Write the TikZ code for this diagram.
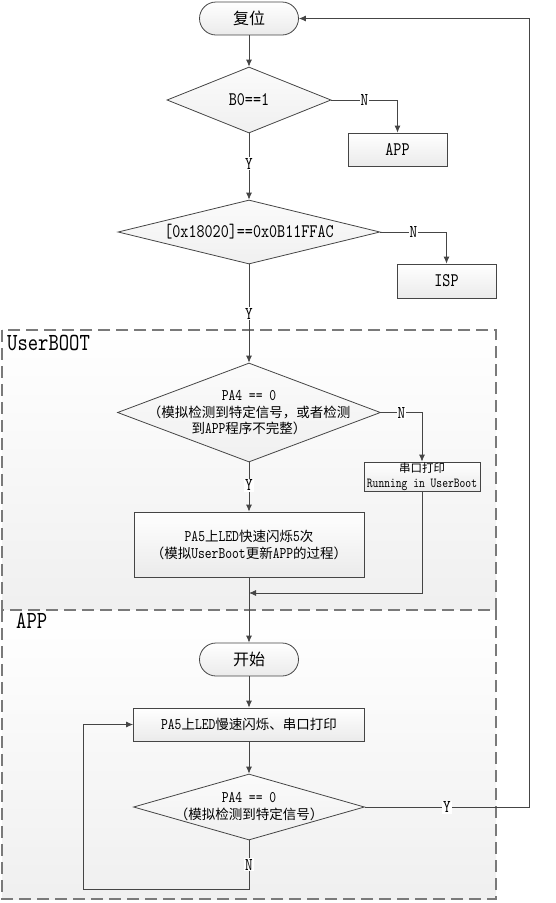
\documentclass[tikz,border=0pt]{standalone}
\usepackage{fontspec}
\setmainfont{lmmono10-regular.otf}[Scale=1.2, FakeStretch=0.8]
\newfontfamily\cjk{Noto Sans CJK SC}
\usetikzlibrary{shapes.geometric,shapes.misc,arrows.meta}
\definecolor{edgec}{HTML}{454545}
\definecolor{zonec}{HTML}{7A7A7A}
\begin{document}
\begin{tikzpicture}[x=1pt,y=-1pt,
  every node/.style={inner sep=0pt, text=black},
  term/.style={rounded rectangle, draw=edgec, line width=0.8pt, top color=white, bottom color=gray!16, minimum width=99pt, minimum height=33pt, font=\fontsize{16}{19}\selectfont},
  procbox/.style={rectangle, draw=edgec, line width=0.8pt, top color=white, bottom color=gray!16, align=center},
  dia/.style={diamond, draw=edgec, line width=0.8pt, top color=white!97!gray, bottom color=gray!12},
  diatext/.style={align=center},
  arr/.style={draw=edgec, line width=0.8pt, -{Latex[length=7pt,width=6pt]}},
  yn/.style={fill=white, inner sep=1pt, font=\fontsize{15}{15}\selectfont},
  zone/.style={draw=zonec, line width=1.1pt, dash pattern=on 12pt off 6pt},
  zonefill/.style={top color=white, bottom color=gray!12},
  zonelabel/.style={anchor=north west, font=\fontsize{20.5}{22}\selectfont}
]
\useasboundingbox (0,0) rectangle (555,903);
% regions
\path[zonefill] (2,330) rectangle (496,610);
\path[zonefill] (2,610) rectangle (496,899);
\draw[zone] (2,330) rectangle (496,610);
\draw[zone] (2,610) -- (2,899) -- (496,899) -- (496,610);
\node[zonelabel] (lbuser) at (7,335) {UserBOOT};
\node[zonelabel] (lbapp) at (16,613) {APP};

% nodes
\node[term] (reset) at (249,18.5) {\cjk 复位};
\node[dia, minimum width=164pt, minimum height=66pt] (d1) at (249,100) {};
\node[diatext, font=\fontsize{16}{19}\selectfont] (d1t) at (d1) {B0==1};
\node[procbox, minimum width=99pt, minimum height=33pt, font=\fontsize{16}{19}\selectfont] (app1) at (397.5,149.5) {APP};
\node[dia, minimum width=262pt, minimum height=64pt] (d2) at (249,232) {};
\node[diatext, font=\fontsize{16}{19}\selectfont] (d2t) at (d2) {[0x18020]==0x0B11FFAC};
\node[procbox, minimum width=99pt, minimum height=34pt, font=\fontsize{16}{19}\selectfont] (isp) at (446.5,281) {ISP};

\node[dia, minimum width=263pt, minimum height=99pt] (d3) at (249,412.5) {};
\node[diatext, font=\fontsize{13.5}{16.5}\selectfont] (d3t) at (249,413) {PA4 == 0\\{\cjk （模拟检测到特定信号，或者检测}\\{\cjk 到}APP{\cjk 程序不完整）}};
\node[procbox, minimum width=116pt, minimum height=29pt, font=\fontsize{11.5}{14.5}\selectfont] (uart) at (422,476.5) {{\cjk 串口打印}\\Running in UserBoot};
\node[procbox, minimum width=230pt, minimum height=65pt, font=\fontsize{13.5}{17}\selectfont] (pa5a) at (249,544.5) {PA5{\cjk 上}LED{\cjk 快速闪烁}5{\cjk 次}\\{\cjk （模拟}UserBoot{\cjk 更新}APP{\cjk 的过程）}};

\node[term] (start) at (249,659.5) {\cjk 开始};
\node[procbox, minimum width=231pt, minimum height=33pt, font=\fontsize{13.5}{17}\selectfont] (pa5b) at (249,724.5) {PA5{\cjk 上}LED{\cjk 慢速闪烁、串口打印}};
\node[dia, minimum width=231pt, minimum height=66pt] (d4) at (249,807) {};
\node[diatext, font=\fontsize{13.5}{17}\selectfont] (d4t) at (249,807) {PA4 == 0\\{\cjk （模拟检测到特定信号）}};

% helper coordinates
\coordinate (j1) at (249,593);
\coordinate (cr) at (529,18.5);
\coordinate (cl) at (83,889);

% connectors
\draw[arr] (reset.south) -- (d1.north);
\draw[arr] (d1.east) -- node[yn] (n1) {N} (d1.east -| app1.north) -- (app1.north);
\draw[arr] (d1.south) -- node[yn, pos=0.46] (y1) {Y} (d2.north);
\draw[arr] (d2.east) -- node[yn] (n2) {N} (d2.east -| isp.north) -- (isp.north);
\draw[arr] (d2.south) -- node[yn, pos=0.5] (y2) {Y} (d3.north);
\draw[arr] (d3.east) -- node[yn] (n3) {N} (d3.east -| uart.north) -- (uart.north);
\draw[arr] (d3.south) -- node[yn, pos=0.46] (y3) {Y} (pa5a.north);
\draw[arr] (uart.south) -- (uart.south |- j1) -- (j1);
\draw[arr] (pa5a.south) -- (start.north);
\draw[arr] (start.south) -- (pa5b.north);
\draw[arr] (pa5b.south) -- (d4.north);
\draw[arr] (d4.east) -- node[yn] (y4) {Y} (d4.east -| cr) -- (cr) -- (reset.east);
\draw[arr] (d4.south) -- node[yn] (n4) {N} (d4.south |- cl) -- (cl) -- (cl |- pa5b.west) -- (pa5b.west);
\end{tikzpicture}
\end{document}
